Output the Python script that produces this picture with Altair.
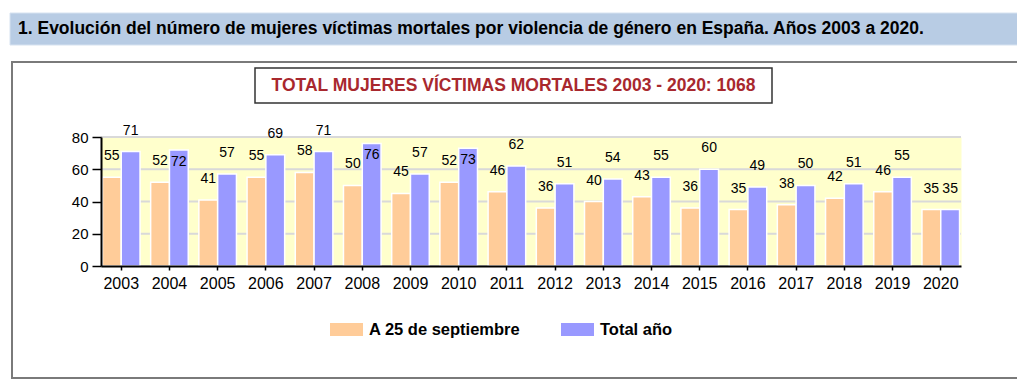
import altair as alt
import pandas as pd

years = ["2003", "2004", "2005", "2006", "2007", "2008", "2009", "2010", "2011",
         "2012", "2013", "2014", "2015", "2016", "2017", "2018", "2019", "2020"]
sept_values = [55, 52, 41, 55, 58, 50, 45, 52, 46, 36, 40, 43, 36, 35, 38, 42, 46, 35]
total_values = [71, 72, 57, 69, 71, 76, 57, 73, 62, 51, 54, 55, 60, 49, 50, 51, 55, 35]
series_names = ["A 25 de septiembre", "Total año"]
series_colors = ["#FFCC99", "#9999FF"]
y_ticks = [0, 20, 40, 60, 80]

header_text = "1. Evolución del número de mujeres víctimas mortales por violencia de género en España. Años 2003 a 2020."
box_title = "TOTAL MUJERES VÍCTIMAS MORTALES 2003 - 2020: 1068"

rows = []
for y, a, b in zip(years, sept_values, total_values):
    rows.append({"year": y, "series": series_names[0], "value": a})
    rows.append({"year": y, "series": series_names[1], "value": b})
df = pd.DataFrame(rows)
grid_df = pd.DataFrame({"value": y_ticks})

FONT = "Liberation Sans"
W, H = 860, 129

xscale = alt.Scale(paddingInner=0.22, paddingOuter=0.03)
yscale = alt.Scale(domain=[0, 80], nice=False)
xaxis = alt.Axis(labelAngle=0, labelFont=FONT, labelFontSize=16, labelColor="#000",
                 labelPadding=5, domainColor="#000", domainWidth=2,
                 tickColor="#000", tickSize=4, tickWidth=1.5, grid=False, zindex=1)
yaxis = alt.Axis(values=y_ticks, labelFont=FONT, labelFontSize=15, labelColor="#000",
                 labelPadding=4, domainColor="#000", domainWidth=2,
                 tickColor="#000", tickSize=9, tickWidth=1.5, grid=False, zindex=1)

xenc = alt.X("year:N", sort=years, title=None, scale=xscale, axis=xaxis)
yenc = alt.Y("value:Q", title=None, scale=yscale, axis=yaxis)
xoff = alt.XOffset("series:N", sort=series_names, scale=alt.Scale(paddingInner=0, paddingOuter=0))

base = alt.Chart(df)

gridlines = alt.Chart(grid_df).mark_rule(color="#D9D9D9", strokeWidth=2).encode(
    y=yenc, x=alt.value(0), x2=alt.value(W))

bars = base.mark_bar(stroke="white", strokeWidth=1.5).encode(
    x=xenc, y=yenc, xOffset=xoff,
    color=alt.Color("series:N", sort=series_names,
                    scale=alt.Scale(domain=series_names, range=series_colors),
                    legend=alt.Legend(orient="none", legendX=229, legendY=176,
                                      direction="horizontal", title=None,
                                      symbolType="M-1,-0.394H1V0.394H-1Z", symbolSize=1089,
                                      symbolStrokeWidth=0, symbolOpacity=1,
                                      labelFont=FONT, labelFontSize=16.5, labelFontWeight="bold",
                                      labelColor="#000", labelOffset=6, columnPadding=40,
                                      padding=0)),
)

labels_out = base.transform_filter("datum.value <= 71").mark_text(
    font=FONT, fontSize=14, color="#000", baseline="middle", dy=-21
).encode(x=xenc, y=yenc, xOffset=xoff, text="value:Q")

labels_in = base.transform_filter("datum.value > 71").mark_text(
    font=FONT, fontSize=14, color="#000", baseline="middle", dy=12
).encode(x=xenc, y=yenc, xOffset=xoff, text="value:Q")

one = alt.Data(values=[{"k": 1}])

outer_box = alt.Chart(one).mark_rect(fill="transparent", stroke="#7A7A7A", strokeWidth=2).encode(
    x=alt.value(-89), x2=alt.value(924), y=alt.value(-75), y2=alt.value(241))

header_band = alt.Chart(one).mark_rect(fill="#B8CCE4", stroke="#D6E2F0", strokeWidth=1).encode(
    x=alt.value(-91), x2=alt.value(924), y=alt.value(-124), y2=alt.value(-92))

header_txt = alt.Chart(one).mark_text(font=FONT, fontSize=17.5, fontWeight="bold", color="#000",
                                      align="left", baseline="middle").encode(
    x=alt.value(-83), y=alt.value(-108), text=alt.value(header_text))

title_box = alt.Chart(one).mark_rect(fill="white", stroke="#333", strokeWidth=1.5).encode(
    x=alt.value(154), x2=alt.value(671), y=alt.value(-69), y2=alt.value(-34))

title_txt = alt.Chart(one).mark_text(font=FONT, fontSize=17.5, fontWeight="bold", color="#A8282E",
                                     align="center", baseline="middle").encode(
    x=alt.value(412.5), y=alt.value(-51), text=alt.value(box_title))

chart = alt.layer(
    outer_box, header_band, header_txt, gridlines, bars, labels_out, labels_in, title_box, title_txt
).properties(
    width=W, height=H,
    autosize=alt.AutoSizeParams(type="none"),
    padding={"left": 93, "top": 129, "right": 56, "bottom": 114},
).configure_view(stroke="transparent", fill="#FFFFCC")

chart.save("out.html", embed_options={"renderer": "svg", "actions": False})
